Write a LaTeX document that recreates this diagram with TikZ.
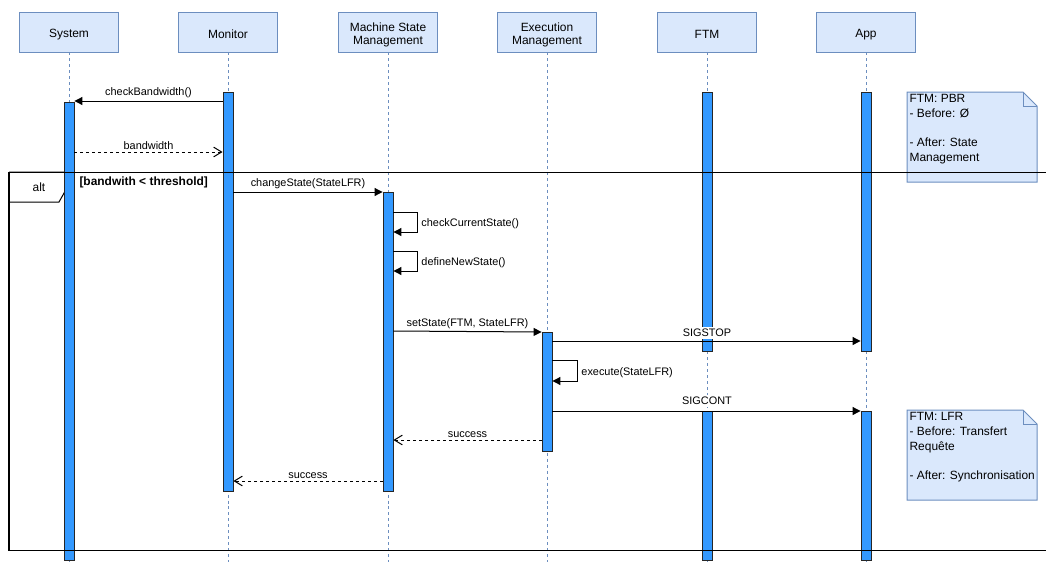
\documentclass[tikz,border=0pt]{standalone}
\usepackage{fontspec}
\setmainfont{Liberation Sans}
\usetikzlibrary{arrows.meta}

\definecolor{boxfill}{HTML}{DAE8FC}
\definecolor{boxline}{HTML}{6C8EBF}
\definecolor{actfill}{HTML}{3399FF}

\tikzset{
  head/.style={draw=boxline, fill=boxfill, minimum width=2cm, minimum height=0.8cm, inner sep=0pt},
  headtxt/.style={align=center, inner sep=0pt, font=\fontsize{6.8}{7.4}\selectfont},
  life/.style={boxline, line width=0.5pt, dash pattern=on 1.7pt off 1.7pt},
  act/.style={draw=black!85, fill=actfill, minimum width=0.2cm, minimum height=#1*0.02cm,
    inner sep=0pt, anchor=north, line width=0.5pt},
  call/.style={-{Triangle[length=4.5pt,width=4.5pt]}},
  reply/.style={dash pattern=on 1.7pt off 1.7pt, -{Straight Barb[length=4.5pt,width=5.5pt]}},
  lbl/.style={above=0.3pt, inner sep=1pt},
  note/.style={anchor=north west, align=left, inner sep=1.2pt, font=\fontsize{6.8}{8.3}\selectfont},
}

\begin{document}
\begin{tikzpicture}[x=0.02cm,y=-0.02cm,line width=0.57pt,font=\fontsize{6.2}{7.4}\selectfont]
\useasboundingbox (0,0) rectangle (1046,562);
% ================= participants =================
\foreach \x/\n/\txt in {69/sys/System,228/mon/Monitor,388/msm/{Machine State\\Management},
  547/exe/{Execution\\Management},707/ftm/FTM,866/app/App}{
  \node[head] (\n) at (\x,32) {};
  \node[headtxt] (\n t) at (\x,34.5) {\txt};
  % dashed lifeline
  \draw[life] (\n.south) -- (\x,562);
}
% ================= notes =================
\foreach \y/\n/\txt in {92/pbr/{FTM: PBR\\- Before: Ø\\\mbox{}\\- After: State\\Management},
  410/lfr/{FTM: LFR\\- Before: Transfert\\Requête\\\mbox{}\\- After: Synchronisation}}{
  \draw[boxline, fill=boxfill] (907,\y) -- ++(116,0) -- ++(14,14) -- ++(0,76) -- ++(-130,0) -- cycle;
  \draw[boxline] (1023,\y) -- ++(0,14) -- ++(14,0);
  \node[note] (\n) at (907,\y) {\txt};
}
% alt tab
\draw[fill=white] (9,172) -- (68,172) -- (68,186) -- (59,202) -- (9,202);
\node[font=\fontsize{6.8}{8}\selectfont] (alt) at (39,187) {alt};
\node[anchor=west, inner sep=0pt, font=\fontsize{6.8}{8}\selectfont\bfseries] (guard) at (79,182) {[bandwith < threshold]};
% ================= activations =================
\node[act=458] (sysA) at (69,102) {};
\node[act=399] (monA) at (228,92) {};
\node[act=299] (msmA) at (388,192) {};
\node[act=119] (exeA) at (547,332) {};
\node[act=259] (ftmA) at (707,92) {};
\node[act=149] (ftmB) at (707,411) {};
\node[act=259] (appA) at (866,92) {};
\node[act=149] (appB) at (866,411) {};
% alt frame
\draw (1046,172) -- (9,172) -- (9,550) -- (1046,550);
% ================= messages =================
\draw[call] (monA.west |- 0,101) -- node[lbl] (m1) {checkBandwidth()} (sysA.east |- 0,101);
\draw[reply] (sysA.east |- 0,152) -- node[lbl] (m2) {bandwidth} (monA.west |- 0,152);
\draw[call] (monA.east |- 0,192) -- node[lbl] (m3) {changeState(StateLFR)} (msmA.north west);
% self calls
\foreach \y/\n/\txt in {212/s1/{checkCurrentState()},251/s2/{defineNewState()}}{
  \draw[call] (msmA.east |- 0,\y) -- ++(24,0) -- ++(0,20)
    node[midway, right=1pt, inner sep=1pt, yshift=-1pt] (\n) {\txt} -- (msmA.east |- 0,\y+20);
}
\draw[call] (msmA.east |- 0,331) -- node[lbl] (m4) {setState(FTM, StateLFR)} (exeA.north west);
\draw[call] (exeA.east |- 0,341) -- (appA.west |- 0,341);
\node[fill=white, inner sep=1pt] (m5) at (707,333) {SIGSTOP};
\draw[call] (exeA.east |- 0,360) -- ++(25,0) -- ++(0,21)
  node[midway, right=1pt, inner sep=1pt, yshift=-1pt] (s3) {execute(StateLFR)} -- (exeA.east |- 0,381);
\draw[call] (exeA.east |- 0,411) -- (appB.north west);
\node[fill=white, inner sep=1pt] (m6) at (707,401) {SIGCONT};
\draw[reply] (exeA.west |- 0,440) -- node[lbl] (m7) {success} (msmA.east |- 0,440);
\draw[reply] (msmA.west |- 0,481) -- node[lbl] (m8) {success} (monA.east |- 0,481);
\end{tikzpicture}
\end{document}
